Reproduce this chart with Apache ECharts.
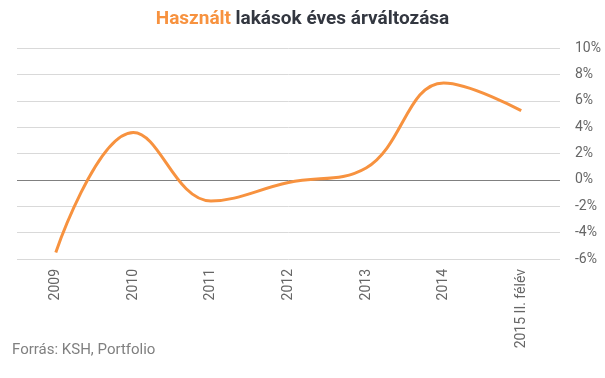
<!DOCTYPE html>
<html>
<head>
<meta charset="utf-8">
<script src="https://cdn.jsdelivr.net/npm/echarts@6/dist/echarts.min.js"></script>
<style>
html,body{margin:0;padding:0;background:#fff;}
#c{width:605px;height:378px;}
</style>
</head>
<body>
<div id="c"></div>
<script>
const categories = ['2009','2010','2011','2012','2013','2014','2015 II. félév'];
const values = [-5.5, 3.6, -1.6, -0.2, 0.9, 7.35, 5.25];
const yTicks = {min: -6, max: 10, interval: 2};

const chart = echarts.init(document.getElementById('c'));
chart.setOption({
  animation: false,
  backgroundColor: '#fff',
  textStyle: {fontFamily: 'Roboto'},
  title: {
    text: '{a|Használt} {b|lakások éves árváltozása}',
    left: 'center',
    top: 5,
    textStyle: {
      rich: {
        a: {color: '#f7923f', fontSize: 19, fontWeight: 'bold', fontFamily: 'Roboto'},
        b: {color: '#333740', fontSize: 19, fontWeight: 'bold', fontFamily: 'Roboto'}
      }
    }
  },
  graphic: [{
    type: 'text', left: 12, top: 343,
    style: {text: 'Forrás: KSH, Portfolio', fill: '#808080', font: '15px Roboto'}
  }],
  grid: {left: 17, right: 45, top: 48, bottom: 119},
  xAxis: {
    type: 'category',
    data: categories,
    boundaryGap: true,
    axisLine: {show: false},
    axisTick: {show: false},
    axisLabel: {rotate: 90, color: '#666', fontSize: 14, margin: 10, fontFamily: 'Roboto'}
  },
  yAxis: {
    type: 'value',
    position: 'right',
    min: yTicks.min, max: yTicks.max, interval: yTicks.interval,
    axisLine: {show: false},
    axisTick: {show: false},
    axisLabel: {
      color: '#666', fontSize: 14, margin: 15, align: 'left', fontFamily: 'Roboto',
      formatter: v => v + '%'
    },
    splitLine: {
      lineStyle: {
        color: ['#d9d9d9','#d9d9d9','#d9d9d9','#808080','#d9d9d9','#d9d9d9','#d9d9d9','#d9d9d9','#d9d9d9'],
        width: 1
      }
    }
  },
  series: [{
    type: 'line',
    data: values,
    smooth: 0.4,
    showSymbol: false,
    lineStyle: {color: '#f7923f', width: 3},
    itemStyle: {color: '#f7923f'}
  }]
});
</script>
</body>
</html>
